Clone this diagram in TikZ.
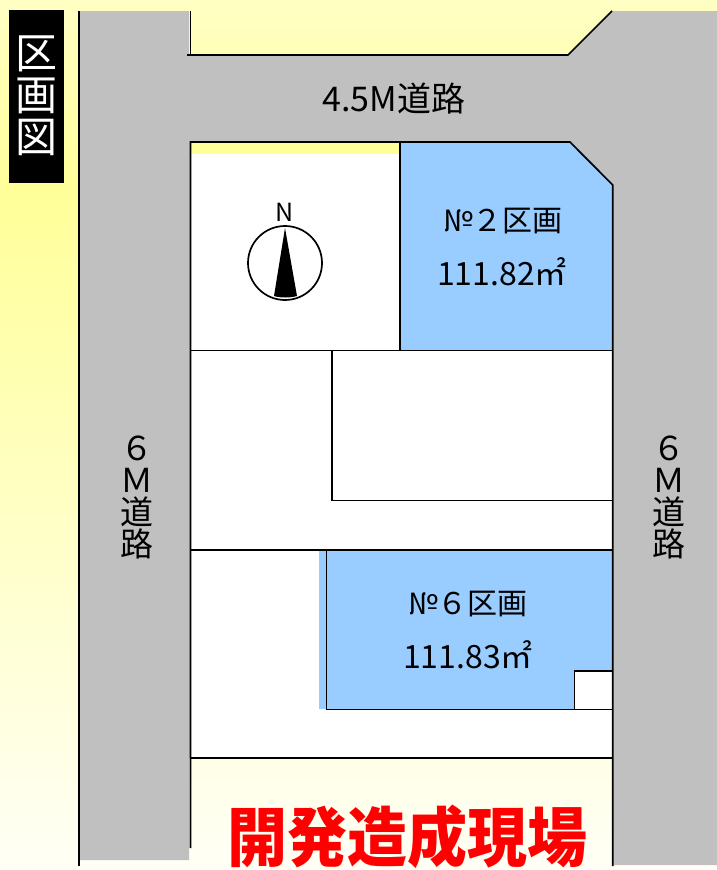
\documentclass[tikz,border=0pt]{standalone}
\usepackage{fontspec}
\setmainfont{Noto Sans CJK JP}
\definecolor{roadgray}{HTML}{C0C0C0}
\definecolor{lotblue}{HTML}{99CCFF}
\definecolor{paleyellow}{HTML}{FFFFC4}
\definecolor{midyellow}{HTML}{FFFF99}
\definecolor{lightyellow}{HTML}{FFFFF6}
\tikzset{
  border/.style={line width=1.7pt, black},
  roadlabel/.style={align=center, font=\fontsize{33}{32}\selectfont},
  lotlabel/.style={font=\fontsize{30}{30}\selectfont},
  arealabel/.style={font=\fontsize{32}{32}\selectfont}
}

\begin{document}
\begin{tikzpicture}[x=1pt, y=-1pt]
        \useasboundingbox (0, 0) rectangle (717, 870);
        \shade[top color=paleyellow, bottom color=midyellow] (0, 0) rectangle (717, 190);
        \shade[top color=midyellow, bottom color=lightyellow] (0, 190) rectangle (717, 870);

        \fill[roadgray] (78, 11) -- (189, 11) -- (189, 55) -- (568, 55) -- (612, 11) -- (717, 11)
          -- (717, 865) -- (613, 865) -- (613, 758) -- (189, 758) -- (189, 860) -- (78, 860) -- cycle;
        \fill[white] (191, 142) -- (570, 142) -- (612.7, 185) -- (612.7, 758) -- (191, 758) -- cycle;
        \fill[midyellow] (191, 142) rectangle (400, 154);
        \fill[lotblue] (400, 142) -- (570, 142) -- (612.7, 185) -- (612.7, 350.5) -- (400, 350.5) -- cycle;
        \fill[lotblue] (319, 550) rectangle (612.7, 709);
        \fill[white] (574, 671) rectangle (612.7, 709);
        \fill[black] (9, 10) rectangle (64, 183);

        \draw[border] (79, 11) -- (79, 866);
        \draw[border] (190.5, 11) -- (190.5, 55);
        \draw[border] (187, 55) -- (568, 55) -- (612, 11);
        \draw[border] (190.5, 848) -- (190.5, 142) -- (570, 142) -- (612.7, 185) -- (612.7, 866);
        \draw[border] (400, 142) -- (400, 350.5);
        \draw[border] (190.5, 350.5) -- (612.7, 350.5);
        \draw[border] (332, 350.5) -- (332, 500.5) -- (612.7, 500.5);
        \draw[border] (190.5, 550) -- (612.7, 550);
        \draw[border] (326.5, 550) -- (326.5, 709.5) -- (612.7, 709.5);
        \draw[border] (574.5, 709.5) -- (574.5, 671) -- (612.7, 671);
        \draw[border] (190.5, 758) -- (612.7, 758);

        \draw[line width=1.7pt, fill=white] (285, 263) circle (37);
        \fill (285, 228) -- (297, 296) .. controls (290, 298) and (280, 298) .. (274, 296) -- cycle;
        \node[font=\fontsize{25}{25}\selectfont] (north) at (285, 212) {N};

        \node[text=white, align=center, font=\fontsize{42}{42}\selectfont] (title) at (36, 96) {区\\画\\図};
        \node[font=\fontsize{34}{34}\selectfont] (road_top) at (394, 99) {4.5M道路};
        \node[roadlabel] (road_left) at (137, 497) {６\\Ｍ\\道\\路};
        \node[roadlabel] (road_right) at (669, 497) {６\\Ｍ\\道\\路};
        \node[lotlabel] (lot_two) at (503, 221) {№２区画};
        \node[arealabel] (area_two) at (502, 272) {111.82㎡};
        \node[lotlabel] (lot_six) at (468, 604) {№６区画};
        \node[arealabel] (area_six) at (468, 655) {111.83㎡};
        \node[text=red, anchor=base, inner sep=0pt, text height=50pt, text depth=0pt, font=\fontsize{60}{60}\bfseries\selectfont, yscale=1.08, transform shape] (site) at (407, 861) {開発造成現場};
      \end{tikzpicture}
\end{document}
